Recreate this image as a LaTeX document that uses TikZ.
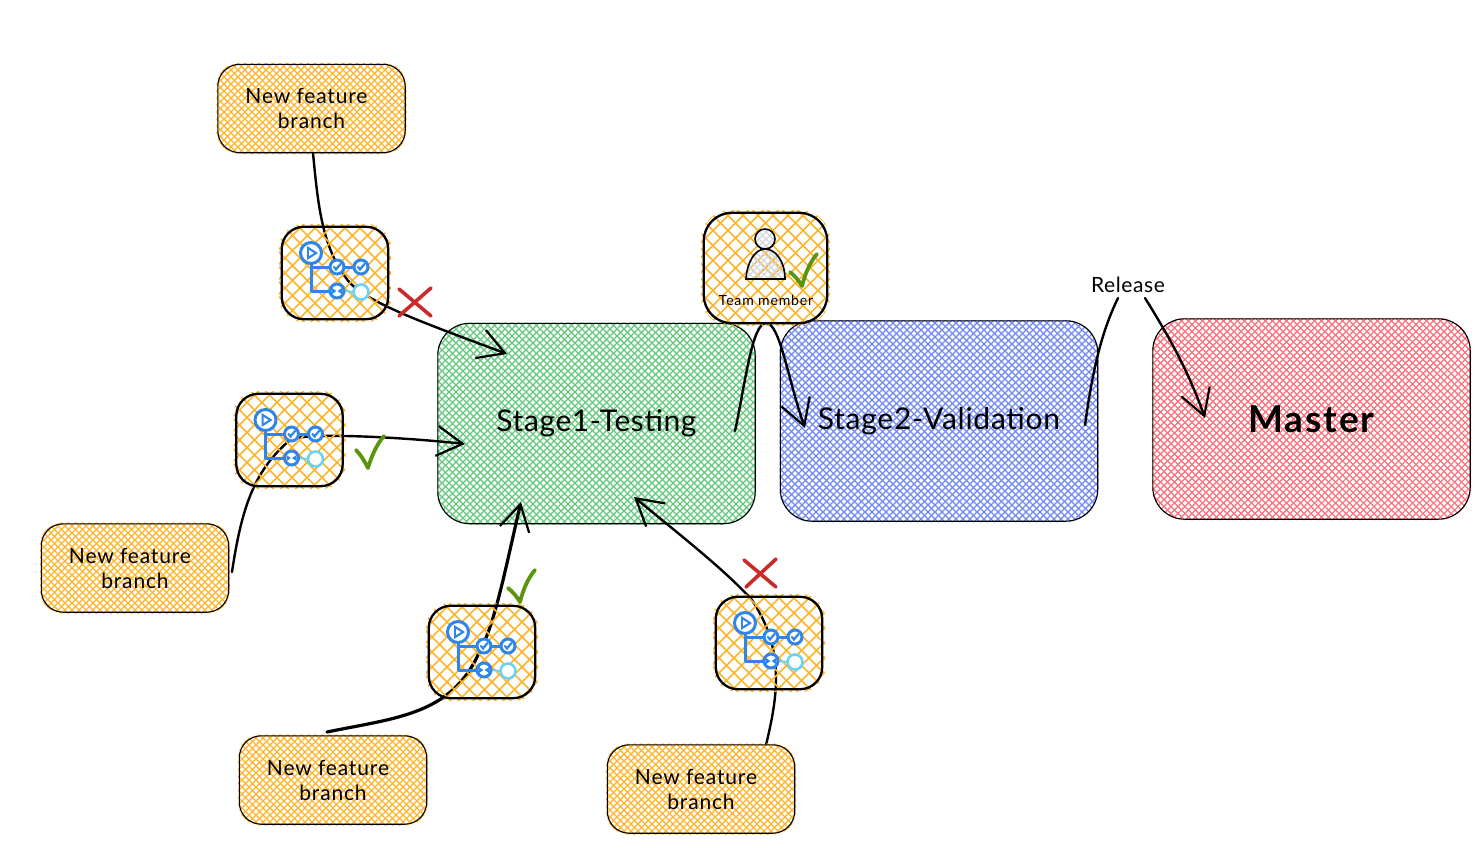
\documentclass[tikz,border=0pt]{standalone}
\usepackage{fontspec}
\setmainfont{Lato}
\usetikzlibrary{arrows.meta,calc}
\pgfdeclarelayer{big}
\pgfdeclarelayer{conn}
\pgfsetlayers{big,conn,main}
\definecolor{hgreen}{HTML}{62C97B}
\definecolor{hblue}{HTML}{6F88F2}
\definecolor{hred}{HTML}{FF6F7C}
\definecolor{horange}{HTML}{FDB42A}
\definecolor{hgray}{HTML}{D3D8DE}
\definecolor{iblue}{HTML}{2F86E8}
\definecolor{ilight}{HTML}{6CD2F7}
\definecolor{mgreen}{HTML}{5C940D}
\definecolor{mred}{HTML}{C92A2A}
\newcommand{\spaced}[1]{\addfontfeature{LetterSpace=#1}}
\newcommand{\outlineof}[4]{\draw[black,line width=#2,rounded corners=#3]
  ([shift={(#4,#4)}]#1.north west) rectangle ([shift={(-#4,-#4)}]#1.south east);}
\tikzset{
  x=1pt,y=-1pt,
  hatch/.style n args={4}{path picture={
    \foreach \d in {-#3,\the\numexpr-#3+#2\relax,...,#3}{
      \draw[#1,line width=#4] (path picture bounding box.center) ++(\d-#3,-#3) -- ++(2*#3,2*#3);
      \draw[#1,line width=#4] (path picture bounding box.center) ++(\d-#3,#3) -- ++(2*#3,-2*#3);
    }}},
  bigbox/.style={rounded corners=33pt,minimum width=319pt,minimum height=202pt,inner sep=0pt,align=center},
  branchbox/.style={rounded corners=23pt,minimum width=190pt,minimum height=91pt,inner sep=0pt,align=center,font=\fontsize{21}{25}\selectfont\spaced{4},hatch={horange}{7}{140}{1.3pt}},
  pipebox/.style={rounded corners=24pt,minimum width=112pt,minimum height=98pt,inner sep=0pt,hatch={horange}{15}{110}{1.5pt}},
  conn/.style={draw=black,line width=2.4pt,line cap=round},
  tipped/.style={conn,-{Straight Barb[length=26pt,width=30pt,line width=2.2pt]}},
  redx/.style={draw=mred,line width=3.6pt,line cap=round},
  tick/.style={draw=mgreen,line width=3.8pt,line cap=round,line join=round},
  pipeline/.pic={
    \draw[iblue,line width=3pt,line join=round] (-24,-10) -- (-24,18) -- (-6,18);
    \draw[iblue,line width=3pt] (-24,-6) -- (-6,-6);
    \draw[iblue,line width=3pt] (10,-6) -- (18,-6);
    \draw[ilight,line width=2pt] (10,18) -- (18,19);
    \draw[iblue,line width=3pt,fill=white] (-24,-20) circle[radius=10.5];
    \fill[iblue] (-28,-27) -- (-17,-20) -- (-28,-13) -- cycle;
    \fill[white] (-26,-23) -- (-21,-20) -- (-26,-17) -- cycle;
    \foreach \cx in {2,26}{
      \draw[iblue,line width=3pt,fill=white] (\cx,-6) circle[radius=7];
      \draw[iblue,line width=2.2pt,line cap=round] (\cx-3,-6) -- (\cx-1,-3.5) -- (\cx+3.5,-9);
    }
    \draw[iblue,line width=3pt,fill=white] (2,18) circle[radius=7];
    \fill[iblue] (-3,15) -- (1.5,18) -- (-3,21) -- cycle;
    \fill[iblue] (7,15) -- (2.5,18) -- (7,21) -- cycle;
    \draw[ilight,line width=2.6pt,fill=white] (26,19) circle[radius=7.5];
  },
}
\begin{document}
\begin{tikzpicture}
\useasboundingbox (0,0) rectangle (1479,843);

\begin{pgfonlayer}{big}
  \node[bigbox,hatch={hgreen}{7}{270}{1.1pt},font=\fontsize{30}{36}\selectfont\spaced{2}] (stage1) at (596.5,423.5) {Stage1-Testing};
  \node[bigbox,hatch={hblue}{7}{270}{1.1pt},font=\fontsize{30}{36}\selectfont\spaced{2.5}] (stage2) at (939,421) {Stage2-Validation};
  \node[bigbox,hatch={hred}{7}{270}{1.1pt},font=\bfseries\fontsize{37}{42}\selectfont\spaced{5}] (master) at (1311.5,419) {Master};
  \outlineof{stage1}{1.1pt}{32pt}{1}
  \outlineof{stage2}{1.1pt}{32pt}{1}
  \outlineof{master}{1.1pt}{32pt}{1}
\end{pgfonlayer}

\node[branchbox] (b1) at (311.5,108.5) {\hspace*{-10pt}New feature\\branch};
\node[branchbox] (b2) at (135,568) {\hspace*{-10pt}New feature\\branch};
\node[branchbox] (b3) at (333,780) {\hspace*{-10pt}New feature\\branch};
\node[branchbox] (b4) at (701,789) {\hspace*{-10pt}New feature\\branch};
\outlineof{b1}{1.1pt}{22pt}{1.5}
\outlineof{b2}{1.1pt}{22pt}{1.5}
\outlineof{b3}{1.1pt}{22pt}{1.5}
\outlineof{b4}{1.1pt}{22pt}{1.5}

\node[pipebox] (p1) at (335,273) {};
\node[pipebox] (p2) at (289.5,440) {};
\node[pipebox] (p3) at (482,652) {};
\node[pipebox] (p4) at (769,643) {};
\outlineof{p1}{2.3pt}{22pt}{3}
\outlineof{p2}{2.3pt}{22pt}{3}
\outlineof{p3}{2.3pt}{22pt}{3}
\outlineof{p4}{2.3pt}{22pt}{3}
\pic at (p1.center) {pipeline};
\pic at (p2.center) {pipeline};
\pic at (p3.center) {pipeline};
\pic at (p4.center) {pipeline};

\node[rounded corners=30pt,minimum width=129pt,minimum height=116pt,inner sep=0pt,hatch={horange}{15}{120}{1.5pt}] (team) at (765.5,268) {};
\outlineof{team}{2.3pt}{28pt}{3}
\draw[black,line width=1.6pt,hatch={hgray}{7}{40}{1.1pt}] (746,279) .. controls (747,262) and (755,249) .. (765,249) .. controls (776,249) and (785,262) .. (785,279) -- cycle;
\node[circle,draw=black,line width=1.6pt,minimum size=20pt,inner sep=0pt,fill=white,hatch={hgray}{7}{20}{1.1pt}] (head) at (765,239) {};
\node[font=\fontsize{14}{16}\selectfont\spaced{6},inner sep=0pt] (teamlabel) at (766,300) {Team member};
\node[font=\fontsize{21}{25}\selectfont\spaced{3},inner sep=0pt] (release) at (1128,285) {Release};

\coordinate (s1a) at (313,153);
\coordinate (s1b) at (507,354);
\coordinate (s2a) at (232,572);
\coordinate (s2b) at (465,444);
\coordinate (s3a) at (327,732);
\coordinate (s3b) at (521,502);
\coordinate (s4a) at (766,745);
\coordinate (s4b) at (634,497);
\coordinate (t1) at (735,431);
\coordinate (t2) at (805,428);
\coordinate (r1) at (1085,425);
\coordinate (r2) at (1118,298);
\coordinate (r3) at (1145,298);
\coordinate (r4) at (1205,418);

\begin{pgfonlayer}{conn}
  \draw[tipped] (s1a) .. controls (318,205) and (322,250) .. (350,283) .. controls (372,305) and (430,325) .. (s1b);
  \draw[tipped] (s2a) .. controls (242,505) and (255,470) .. (290,440) .. controls (305,432) and (400,437) .. (s2b);
  \draw[tipped,line width=3.2pt] (s3a) .. controls (395,718) and (450,715) .. (478,655) .. controls (495,625) and (505,570) .. (s3b);
  \draw[tipped] (s4a) .. controls (778,695) and (785,650) .. (752,600) .. controls (725,570) and (680,535) .. (s4b);
  \draw[tipped] (t1) .. controls (745,385) and (752,323) .. (766,323) .. controls (780,323) and (788,380) .. (t2);
  \draw[conn] (r1) .. controls (1092,375) and (1100,335) .. (r2);
  \draw[tipped] (r3) .. controls (1168,335) and (1188,370) .. (r4);
\end{pgfonlayer}

\draw[redx] (399,316) -- (431,288);
\draw[redx] (399,289) -- (431,316);
\draw[redx] (746,587) -- (776,559);
\draw[redx] (744,560) -- (776,587);

\draw[tick] (356,450) .. controls (361,455) and (365,462) .. (368,468) .. controls (371,458) and (376,445) .. (384,436);
\draw[tick] (508,588) .. controls (513,592) and (517,597) .. (520,602) .. controls (523,590) and (528,578) .. (535,570);
\draw[tick] (790,272) .. controls (795,276) and (799,281) .. (802,286) .. controls (805,274) and (810,262) .. (817,254);
\end{tikzpicture}
\end{document}
